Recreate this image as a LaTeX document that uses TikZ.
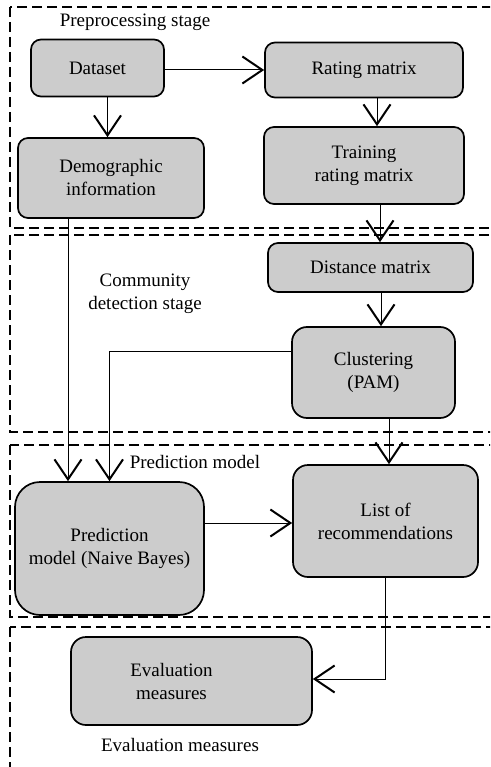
\documentclass[tikz,border=0pt]{standalone}
\usepackage{fontspec}
\setmainfont{Liberation Serif}
\newfontfamily\diagfont{Liberation Serif}
\usetikzlibrary{arrows.meta}
\tikzset{
    >={Straight Barb[length=20pt,width=27pt,line width=2pt]},
    box/.style={draw=black,line width=1.7pt,fill=black!20,rounded corners=10pt,align=center,inner sep=0pt,font=\diagfont\fontsize{19}{23}\selectfont},
    stageframe/.style={line width=1.8pt,dash pattern=on 10pt off 5pt},
    stagelabel/.style={align=center,font=\diagfont\fontsize{19}{23}\selectfont},
    flow/.style={->,line width=1pt}
}

\begin{document}
\begin{tikzpicture}[x=1pt,y=-1pt]
  \useasboundingbox (0,0) rectangle (490,767);
  \clip (0,0) rectangle (490,767);

  % stage frames
  \draw[stageframe] (10,7)   rectangle (510,228);
  \draw[stageframe] (10,235) rectangle (510,432);
  \draw[stageframe] (10,445) rectangle (510,617);
  \draw[stageframe] (10,627) rectangle (510,790);

  \node[stagelabel] (lpre)  at (135,22)  {Preprocessing stage};
  \node[stagelabel] (lcom)  at (145,294) {Community\\detection stage};
  \node[stagelabel] (lpred) at (195,462) {Prediction model};
  \node[stagelabel] (leval) at (180,745) {Evaluation measures};

  % boxes
  \node[box,minimum width=133pt,minimum height=57pt] (data)  at (97.5,68)   {Dataset};
  \node[box,minimum width=198pt,minimum height=55pt] (rate)  at (364,70)    {Rating matrix};
  \node[box,minimum width=186pt,minimum height=80pt] (demo)  at (111,178)   {Demographic\\information};
  \node[box,minimum width=200pt,minimum height=77pt] (train) at (364,165.5) {Training\\rating matrix};
  \node[box,minimum width=205pt,minimum height=49pt] (dist)  at (370.5,267.5) {Distance matrix};
  \node[box,minimum width=163pt,minimum height=91pt,rounded corners=15pt] (clust) at (373.5,372.5) {Clustering\\(PAM)};
  \node[box,minimum width=189pt,minimum height=133pt,rounded corners=25pt] (pred) at (109.5,548.5) {Prediction\\model (Naive Bayes)};
  \node[box,minimum width=185pt,minimum height=112pt,rounded corners=15pt] (list) at (385.5,521) {List of\\recommendations};
  \node[box,minimum width=241pt,minimum height=88pt,rounded corners=15pt] (eval) at (191.5,681) {Evaluation\hspace*{40pt}\\measures\hspace*{40pt}};

  % connectors
  \draw[flow] ([yshift=-2pt]data.east) -- ([yshift=-2pt]data.east -| rate.west);
  \draw[flow] ([xshift=10pt]data.south) -- ([xshift=10pt]data.south |- demo.north);
  \draw[flow] ([xshift=13pt]rate.south) -- ([xshift=13pt]rate.south |- train.north);
  \draw[flow] ([xshift=16pt]train.south) -- ([xshift=16pt]train.south |- dist.north);
  \draw[flow] ([xshift=10.5pt]dist.south) -- ([xshift=10.5pt]dist.south |- clust.north);
  \draw[flow] ([xshift=15.5pt]clust.south) -- ([xshift=15.5pt]clust.south |- list.north);
  \draw[flow] ([xshift=-43pt]demo.south) -- ([xshift=-43pt]demo.south |- pred.north);
  \draw[flow] ([yshift=21.5pt]clust.west) -| (pred.north);
  \draw[flow] ([yshift=25.5pt]pred.east) -- ([yshift=25.5pt]pred.east -| list.west);
  \draw[flow] (list.south) |- ([yshift=2pt]eval.east);
\end{tikzpicture}
\end{document}
